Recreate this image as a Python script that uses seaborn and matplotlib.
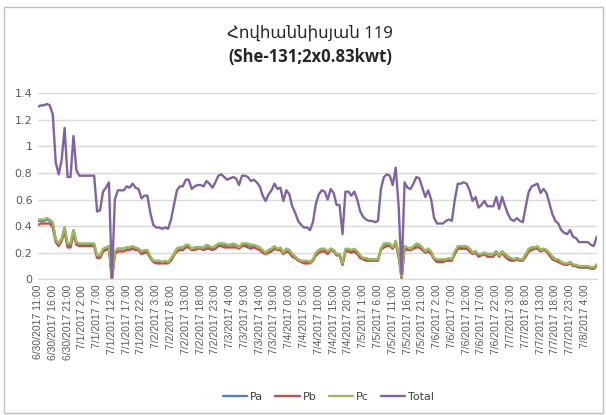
import numpy as np
import pandas as pd
import matplotlib
matplotlib.use("Agg")
import matplotlib.pyplot as plt
import seaborn as sns
from matplotlib.patches import Rectangle

# hourly readings starting 6/30/2017 11:00
start_time = "2017-06-30 11:00"

total = [
    1.30, 1.31, 1.31, 1.32, 1.31, 1.24, 0.88, 0.79, 0.90, 1.14,
    0.77, 0.77, 1.08, 0.82, 0.78, 0.78, 0.78, 0.78, 0.78, 0.78,
    0.51, 0.52, 0.66, 0.69, 0.73, 0.01, 0.60, 0.67, 0.67, 0.67,
    0.70, 0.69, 0.72, 0.69, 0.68, 0.61, 0.63, 0.63, 0.50, 0.41,
    0.39, 0.39, 0.38, 0.39, 0.38, 0.45, 0.56, 0.67, 0.70, 0.70,
    0.75, 0.75, 0.68, 0.70, 0.71, 0.71, 0.70, 0.74, 0.72, 0.69,
    0.73, 0.78, 0.79, 0.77, 0.75, 0.76, 0.77, 0.76, 0.71, 0.78,
    0.78, 0.77, 0.74, 0.75, 0.73, 0.70, 0.63, 0.59, 0.64, 0.67,
    0.72, 0.68, 0.69, 0.59, 0.67, 0.64, 0.55, 0.50, 0.44, 0.41,
    0.39, 0.39, 0.37, 0.43, 0.57, 0.64, 0.67, 0.66, 0.60, 0.68,
    0.65, 0.56, 0.56, 0.34, 0.66, 0.66, 0.63, 0.66, 0.60, 0.51,
    0.47, 0.45, 0.44, 0.44, 0.43, 0.44, 0.68, 0.77, 0.79, 0.78,
    0.71, 0.84, 0.55, 0.04, 0.73, 0.69, 0.68, 0.72, 0.77, 0.76,
    0.69, 0.62, 0.67, 0.60, 0.46, 0.42, 0.42, 0.42, 0.44, 0.45,
    0.44, 0.60, 0.72, 0.72, 0.73, 0.72, 0.67, 0.59, 0.62, 0.54,
    0.56, 0.59, 0.55, 0.55, 0.55, 0.62, 0.53, 0.62, 0.55, 0.49,
    0.45, 0.44, 0.46, 0.44, 0.43, 0.55, 0.66, 0.70, 0.71, 0.72,
    0.65, 0.68, 0.65, 0.57, 0.49, 0.44, 0.42, 0.37, 0.35, 0.34,
    0.37, 0.32, 0.31, 0.28, 0.28, 0.28, 0.28, 0.26, 0.25, 0.32,
]

pa = [
    0.44, 0.44, 0.44, 0.45, 0.44, 0.42, 0.30, 0.27, 0.30, 0.39,
    0.26, 0.26, 0.37, 0.28, 0.26, 0.26, 0.26, 0.26, 0.26, 0.26,
    0.17, 0.18, 0.22, 0.23, 0.25, 0.00, 0.20, 0.23, 0.23, 0.23,
    0.24, 0.23, 0.24, 0.23, 0.23, 0.21, 0.21, 0.21, 0.17, 0.14,
    0.13, 0.13, 0.13, 0.13, 0.13, 0.15, 0.19, 0.23, 0.24, 0.24,
    0.25, 0.25, 0.23, 0.24, 0.24, 0.24, 0.24, 0.25, 0.24, 0.23,
    0.25, 0.26, 0.27, 0.26, 0.25, 0.26, 0.26, 0.26, 0.24, 0.26,
    0.26, 0.26, 0.25, 0.25, 0.25, 0.24, 0.21, 0.20, 0.22, 0.23,
    0.24, 0.23, 0.23, 0.20, 0.23, 0.22, 0.19, 0.17, 0.15, 0.14,
    0.13, 0.13, 0.13, 0.15, 0.19, 0.22, 0.23, 0.22, 0.20, 0.23,
    0.22, 0.19, 0.19, 0.11, 0.22, 0.22, 0.21, 0.22, 0.20, 0.17,
    0.16, 0.15, 0.15, 0.15, 0.15, 0.15, 0.23, 0.26, 0.27, 0.26,
    0.24, 0.28, 0.19, 0.01, 0.25, 0.23, 0.23, 0.24, 0.26, 0.26,
    0.23, 0.21, 0.23, 0.20, 0.16, 0.14, 0.14, 0.14, 0.15, 0.15,
    0.15, 0.20, 0.24, 0.24, 0.25, 0.24, 0.23, 0.20, 0.21, 0.18,
    0.19, 0.20, 0.19, 0.19, 0.19, 0.21, 0.18, 0.21, 0.19, 0.17,
    0.15, 0.15, 0.16, 0.15, 0.15, 0.19, 0.22, 0.24, 0.24, 0.24,
    0.22, 0.23, 0.22, 0.19, 0.17, 0.15, 0.14, 0.13, 0.12, 0.11,
    0.13, 0.11, 0.10, 0.09, 0.09, 0.09, 0.09, 0.09, 0.08, 0.11,
]

pb = [
    0.41, 0.42, 0.42, 0.42, 0.42, 0.39, 0.28, 0.25, 0.29, 0.36,
    0.24, 0.24, 0.34, 0.26, 0.25, 0.25, 0.25, 0.25, 0.25, 0.25,
    0.16, 0.16, 0.21, 0.22, 0.23, 0.00, 0.19, 0.21, 0.21, 0.21,
    0.22, 0.22, 0.23, 0.22, 0.22, 0.19, 0.20, 0.20, 0.16, 0.13,
    0.12, 0.12, 0.12, 0.12, 0.12, 0.14, 0.18, 0.21, 0.22, 0.22,
    0.24, 0.24, 0.22, 0.22, 0.23, 0.23, 0.22, 0.23, 0.23, 0.22,
    0.23, 0.25, 0.25, 0.24, 0.24, 0.24, 0.24, 0.24, 0.23, 0.25,
    0.25, 0.24, 0.23, 0.24, 0.23, 0.22, 0.20, 0.19, 0.20, 0.21,
    0.23, 0.22, 0.22, 0.19, 0.21, 0.20, 0.17, 0.16, 0.14, 0.13,
    0.12, 0.12, 0.12, 0.14, 0.18, 0.20, 0.21, 0.21, 0.19, 0.22,
    0.21, 0.18, 0.18, 0.11, 0.21, 0.21, 0.20, 0.21, 0.19, 0.16,
    0.15, 0.14, 0.14, 0.14, 0.14, 0.14, 0.22, 0.24, 0.25, 0.25,
    0.23, 0.27, 0.17, 0.01, 0.23, 0.22, 0.22, 0.23, 0.24, 0.24,
    0.22, 0.20, 0.21, 0.19, 0.15, 0.13, 0.13, 0.13, 0.14, 0.14,
    0.14, 0.19, 0.23, 0.23, 0.23, 0.23, 0.21, 0.19, 0.20, 0.17,
    0.18, 0.19, 0.17, 0.17, 0.17, 0.20, 0.17, 0.20, 0.17, 0.15,
    0.14, 0.14, 0.15, 0.14, 0.14, 0.17, 0.21, 0.22, 0.23, 0.23,
    0.21, 0.22, 0.21, 0.18, 0.15, 0.14, 0.13, 0.12, 0.11, 0.11,
    0.12, 0.10, 0.10, 0.09, 0.09, 0.09, 0.09, 0.08, 0.08, 0.10,
]

pc = [
    0.45, 0.45, 0.45, 0.46, 0.45, 0.43, 0.30, 0.27, 0.31, 0.39,
    0.27, 0.27, 0.37, 0.28, 0.27, 0.27, 0.27, 0.27, 0.27, 0.27,
    0.18, 0.18, 0.23, 0.24, 0.25, 0.01, 0.21, 0.23, 0.23, 0.23,
    0.24, 0.24, 0.25, 0.24, 0.23, 0.21, 0.22, 0.22, 0.17, 0.14,
    0.14, 0.14, 0.13, 0.14, 0.13, 0.16, 0.19, 0.23, 0.24, 0.24,
    0.26, 0.26, 0.23, 0.24, 0.24, 0.24, 0.24, 0.26, 0.25, 0.24,
    0.25, 0.27, 0.27, 0.27, 0.26, 0.26, 0.27, 0.26, 0.24, 0.27,
    0.27, 0.27, 0.26, 0.26, 0.25, 0.24, 0.22, 0.20, 0.22, 0.23,
    0.25, 0.23, 0.24, 0.20, 0.23, 0.22, 0.19, 0.17, 0.15, 0.14,
    0.14, 0.14, 0.13, 0.15, 0.20, 0.22, 0.23, 0.23, 0.21, 0.23,
    0.22, 0.19, 0.19, 0.12, 0.23, 0.23, 0.22, 0.23, 0.21, 0.18,
    0.16, 0.16, 0.15, 0.15, 0.15, 0.15, 0.23, 0.27, 0.27, 0.27,
    0.24, 0.29, 0.19, 0.02, 0.25, 0.24, 0.23, 0.25, 0.27, 0.26,
    0.24, 0.21, 0.23, 0.21, 0.16, 0.15, 0.15, 0.15, 0.15, 0.16,
    0.15, 0.21, 0.25, 0.25, 0.25, 0.25, 0.23, 0.20, 0.21, 0.19,
    0.19, 0.20, 0.19, 0.19, 0.19, 0.21, 0.18, 0.21, 0.19, 0.17,
    0.16, 0.15, 0.16, 0.15, 0.15, 0.19, 0.23, 0.24, 0.24, 0.25,
    0.22, 0.23, 0.22, 0.20, 0.17, 0.15, 0.15, 0.13, 0.12, 0.12,
    0.13, 0.11, 0.11, 0.10, 0.10, 0.10, 0.10, 0.09, 0.09, 0.11,
]

series_names = ["Pa", "Pb", "Pc", "Total"]
colors = ["#4F81BD", "#C0504D", "#9BBB59", "#8064A2"]
y_ticks = [0, 0.2, 0.4, 0.6, 0.8, 1.0, 1.2, 1.4]
y_tick_labels = ["0", "0.2", "0.4", "0.6", "0.8", "1", "1.2", "1.4"]

times = pd.date_range(start_time, periods=len(total), freq="h")
time_labels = [f"{t.month}/{t.day}/{t.year} {t.hour}:00" for t in times]

df = pd.DataFrame({"hour": np.arange(len(total)), "Pa": pa, "Pb": pb, "Pc": pc, "Total": total})
long_df = df.melt(id_vars="hour", value_vars=series_names, var_name="series", value_name="kw")

sns.set_style("white")
plt.rcParams["font.family"] = ["DejaVu Sans"]

fig = plt.figure(figsize=(6.06, 4.15), dpi=100)
ax = fig.add_axes([0.0627, 0.327, 0.922, 0.448])

sns.lineplot(
    data=long_df,
    x="hour",
    y="kw",
    hue="series",
    hue_order=series_names,
    palette=dict(zip(series_names, colors)),
    linewidth=1.7,
    ax=ax,
)

ax.set_xlim(0, len(total) - 1)
ax.set_ylim(0, 1.4)
ax.set_yticks(y_ticks)
ax.set_yticklabels(y_tick_labels, fontsize=8, color="#595959")
tick_pos = np.arange(0, len(total) - 4, 5)
ax.set_xticks(tick_pos)
ax.set_xticklabels([time_labels[i] for i in tick_pos], rotation=90, fontsize=7.5,
                   color="#595959", family=["Liberation Sans", "DejaVu Sans"])
ax.tick_params(axis="both", length=0, pad=4)
ax.set_xlabel("")
ax.set_ylabel("")
ax.grid(axis="y", color="#D9D9D9", linewidth=1)
ax.set_axisbelow(True)
for side in ["top", "right", "left"]:
    ax.spines[side].set_visible(False)
ax.spines["bottom"].set_color("#D9D9D9")

sns.move_legend(ax, "center", bbox_to_anchor=(0.52, -0.633), ncol=4, frameon=False,
                title=None, fontsize=8, handlelength=2.2, columnspacing=1.1, handletextpad=0.25)
for txt in ax.get_legend().get_texts():
    txt.set_color("#404040")

fig.text(0.512, 0.92, "Հովհաննիսյան 119", ha="center", va="center", fontsize=12,
         family=["Noto Sans", "DejaVu Sans"])
fig.text(0.512, 0.862, "(She-131;2x0.83kwt)", ha="center", va="center", fontsize=12,
         fontweight="bold", family=["Open Sans", "DejaVu Sans"])

fig.patches.append(Rectangle((0.007, 0.006), 0.988, 0.977, transform=fig.transFigure,
                             fill=False, edgecolor="#BFBFBF", linewidth=1))

fig.savefig("out.png", dpi=100)
